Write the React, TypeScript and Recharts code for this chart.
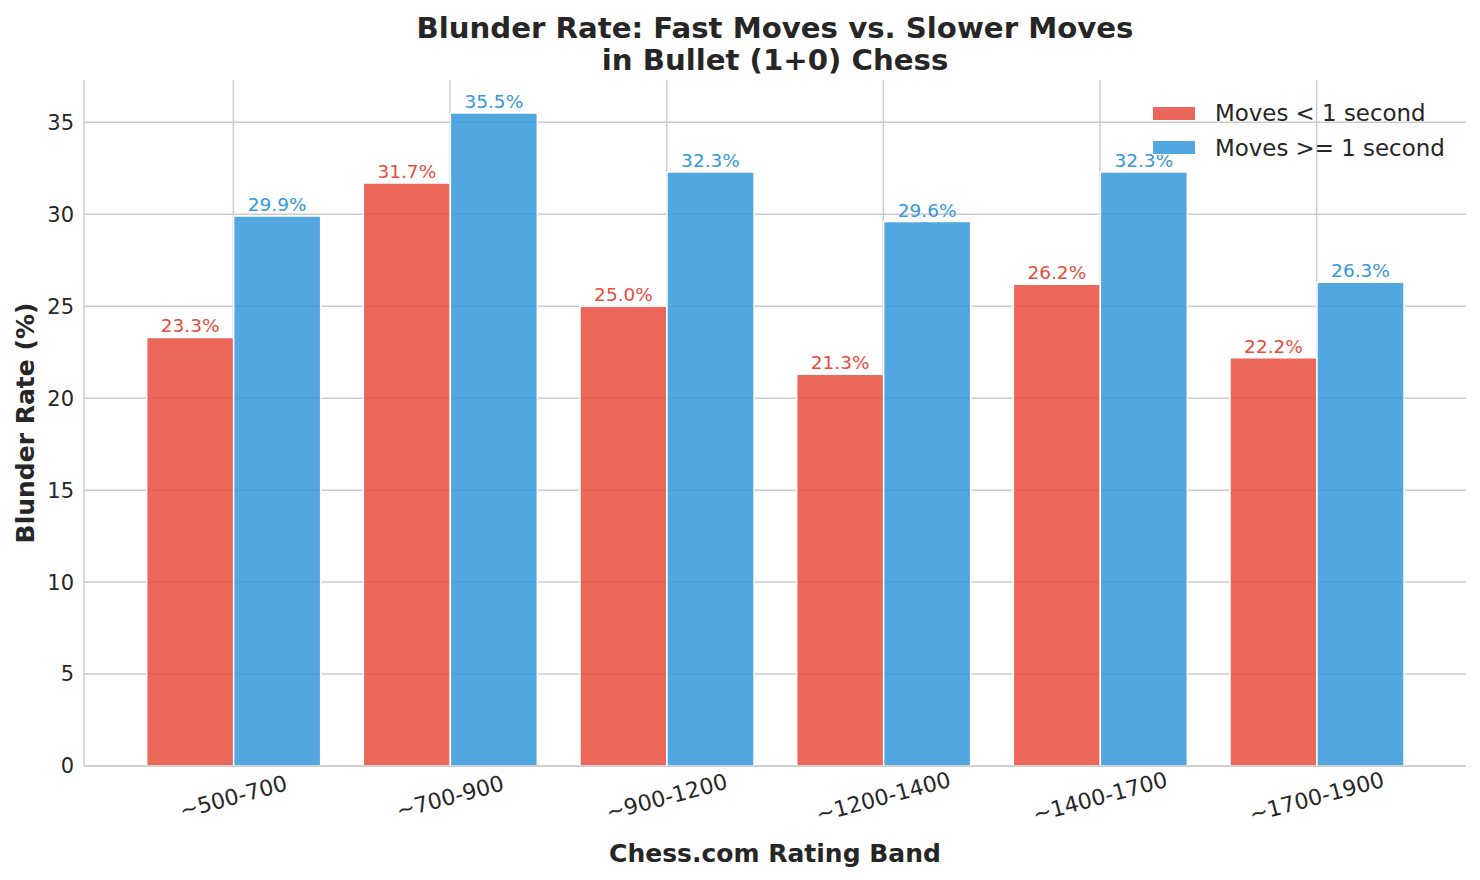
import React from 'react';
import { BarChart, Bar, XAxis, YAxis, CartesianGrid, LabelList } from 'recharts';

const bands = ['~500-700', '~700-900', '~900-1200', '~1200-1400', '~1400-1700', '~1700-1900'];
const fastRates = [23.3, 31.7, 25.0, 21.3, 26.2, 22.2];
const slowRates = [29.9, 35.5, 32.3, 29.6, 32.3, 26.3];
const yTicks = [0, 5, 10, 15, 20, 25, 30, 35];
const legendItems = ['Moves < 1 second', 'Moves >= 1 second'];

const Y_MAX = 37.3;
const X_PAD = 41;
const RED = '#e74c3c';
const BLUE = '#3498db';
const TEXT = '#262626';
const GRID = '#cccccc';
const FONT = '"DejaVu Sans", sans-serif';

const chartData = bands.map((band, i) => ({ band, fast: fastRates[i], slow: slowRates[i] }));

// grid only at the y ticks (no top edge line)
const hGrid = (args: any) => {
  const { yAxis, offset } = args;
  const s = yAxis && yAxis.scale;
  if (typeof s === 'function') return yTicks.map((t) => s(t));
  if (s && typeof s.map === 'function') return yTicks.map((t) => s.map(t));
  return yTicks.map((t) => offset.top + offset.height * (1 - t / Y_MAX));
};

// grid only at category centres (no right edge line)
const vGrid = (args: any) => {
  const { xAxis, offset } = args;
  const s = xAxis && xAxis.scale;
  if (typeof s === 'function' && typeof s.bandwidth === 'function') {
    return bands.map((b) => s(b) + s.bandwidth() / 2);
  }
  const step = (offset.width - 2 * X_PAD) / bands.length;
  return bands.map((_, i) => offset.left + X_PAD + (i + 0.5) * step);
};

const RotatedTick = (props: any) => {
  const { x, y, payload } = props;
  return (
    <g transform={`translate(${x},${y + 31}) rotate(-15)`}>
      <text textAnchor="middle" dominantBaseline="central" fill={TEXT} fontSize={22} fontFamily={FONT}>
        {payload.value}
      </text>
    </g>
  );
};

export default function App() {
  const legendColors = [RED, BLUE];
  return (
    <div style={{ position: 'fixed', left: 0, top: 0, width: 1480, height: 880, background: '#fff', fontFamily: FONT }}>
      <div
        style={{
          position: 'absolute',
          left: 84,
          width: 1382,
          top: 12,
          textAlign: 'center',
          fontSize: 29.2,
          lineHeight: '32px',
          fontWeight: 'bold',
          color: TEXT,
        }}
      >
        Blunder Rate: Fast Moves vs. Slower Moves
        <br />
        in Bullet (1+0) Chess
      </div>

      <BarChart
        width={1480}
        height={880}
        data={chartData}
        margin={{ top: 80, right: 14, bottom: 84, left: 24 }}
        barCategoryGap="10%"
        barGap={0}
      >
        <CartesianGrid
          stroke={GRID}
          strokeWidth={1.5}
          horizontalCoordinatesGenerator={hGrid}
          verticalCoordinatesGenerator={vGrid}
        />
        <XAxis
          dataKey="band"
          height={30}
          padding={{ left: X_PAD, right: X_PAD }}
          axisLine={{ stroke: GRID, strokeWidth: 1.5 }}
          tickLine={false}
          tickSize={0}
          tickMargin={0}
          interval={0}
          tick={<RotatedTick />}
        />
        <YAxis
          width={60}
          domain={[0, Y_MAX]}
          ticks={yTicks}
          allowDataOverflow
          axisLine={{ stroke: GRID, strokeWidth: 1.5 }}
          tickLine={false}
          tickSize={0}
          tickMargin={10}
          tick={{ fill: TEXT, fontSize: 21, fontFamily: FONT }}
        />
        <Bar dataKey="fast" name="Moves < 1 second" fill={RED} fillOpacity={0.85} stroke="#fff" strokeWidth={1.5} isAnimationActive={false}>
          <LabelList
            dataKey="fast"
            position="top"
            offset={5}
            formatter={(v: any) => `${Number(v).toFixed(1)}%`}
            style={{ fill: RED, fontSize: 18.5, fontFamily: FONT }}
          />
        </Bar>
        <Bar dataKey="slow" name="Moves >= 1 second" fill={BLUE} fillOpacity={0.85} stroke="#fff" strokeWidth={1.5} isAnimationActive={false}>
          <LabelList
            dataKey="slow"
            position="top"
            offset={5}
            formatter={(v: any) => `${Number(v).toFixed(1)}%`}
            style={{ fill: BLUE, fontSize: 18.5, fontFamily: FONT }}
          />
        </Bar>
      </BarChart>

      <div style={{ position: 'absolute', top: 96, left: 1152 }}>
        {legendItems.map((label, i) => (
          <div key={label} style={{ display: 'flex', alignItems: 'center', height: 34.5 }}>
            <span
              style={{
                display: 'inline-block',
                width: 44,
                height: 15,
                background: legendColors[i],
                opacity: 0.85,
                boxSizing: 'border-box',
                border: '1px solid #fff',
              }}
            />
            <span style={{ marginLeft: 19, fontSize: 22.9, color: TEXT, whiteSpace: 'nowrap' }}>{label}</span>
          </div>
        ))}
      </div>

      <div
        style={{
          position: 'absolute',
          left: 25,
          top: 423,
          transform: 'translate(-50%, -50%) rotate(-90deg)',
          fontSize: 25,
          fontWeight: 'bold',
          color: TEXT,
          whiteSpace: 'nowrap',
        }}
      >
        Blunder Rate (%)
      </div>
      <div
        style={{
          position: 'absolute',
          left: 775,
          top: 853,
          transform: 'translate(-50%, -50%)',
          fontSize: 25,
          fontWeight: 'bold',
          color: TEXT,
          whiteSpace: 'nowrap',
        }}
      >
        Chess.com Rating Band
      </div>
    </div>
  );
}
